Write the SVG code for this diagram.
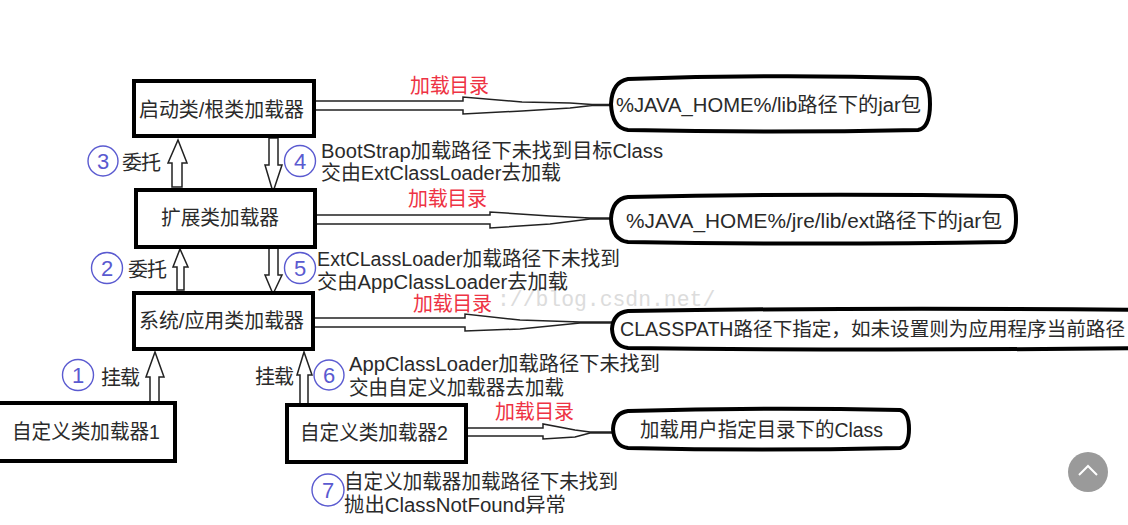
<svg xmlns="http://www.w3.org/2000/svg" width="1128" height="525" viewBox="0 0 1128 525">
<style>
text{font-family:"Liberation Sans","Noto Sans CJK SC",sans-serif;fill:#2a2a2a;font-size:20px}
.box{fill:#fff;stroke:#000;stroke-width:4}
.blob{fill:#fff;stroke:#000;stroke-width:4}
text.red{fill:#ee3344}
.arr{fill:#fff;stroke:#222;stroke-width:1.5;stroke-linejoin:miter}
.num{fill:#fff;stroke:#5a5ad0;stroke-width:1.4}
text.n{fill:#5a5ad0;font-size:22px;text-anchor:middle}
text.wm{font-family:"Liberation Mono",monospace;font-size:21.4px;fill:#dcdcdc}
</style>
<rect width="1128" height="525" fill="#fff"/>
<text class="wm" x="497" y="306">://blog.csdn.net/</text>
<g id="connectors">
<path class="arr" d="M314 101H463V97L522 102L570 103L592 104.500H611V105.500H592L570 108L522 111L463 114V110H314Z"/>
<path class="arr" d="M315 215H490V212L550 216L590 218H610V219H590L550 224L490 228V224H315Z"/>
<path class="arr" d="M313 318H465V314L520 320L580 322H612V323H580L520 329L465 331V327H313Z"/>
<path class="arr" d="M466 428H543V424L575 430L590 432H613V433H590L575 437L543 439V436H466Z"/>
<path class="arr" d="M172 187V163H168L178 140L187 163H182V187Z"/>
<path class="arr" d="M177 290V267H173L180 249L188 267H184V290Z"/>
<path class="arr" d="M150 403V377H146L155 352L164 377H159V403Z"/>
<path class="arr" d="M300 404V375H297L304 352L312 375H308V404Z"/>
<path class="arr" d="M269 138V165H265L273 192L282 165H278V138Z"/>
<path class="arr" d="M269 248V275H265L273 294L282 275H278V248Z"/>
</g>
<g id="node-bootstrap"><rect class="box" x="134" y="81" width="180" height="55"/><text x="139" y="117" textLength="165" lengthAdjust="spacingAndGlyphs">启动类/根类加载器</text></g>
<g id="node-ext"><rect class="box" x="136" y="190" width="179" height="57"/><text x="161" y="225" textLength="118" lengthAdjust="spacingAndGlyphs">扩展类加载器</text></g>
<g id="node-app"><rect class="box" x="134" y="293" width="179" height="56"/><text x="139" y="328" textLength="165" lengthAdjust="spacingAndGlyphs">系统/应用类加载器</text></g>
<g id="node-custom1"><rect class="box" x="-6" y="403" width="181" height="58"/><text x="12" y="439" textLength="148" lengthAdjust="spacingAndGlyphs">自定义类加载器1</text></g>
<g id="node-custom2"><rect class="box" x="287" y="405" width="179" height="57"/><text x="300" y="440" textLength="148" lengthAdjust="spacingAndGlyphs">自定义类加载器2</text></g>
<g id="target-lib"><path class="blob" d="M628 79Q770 74 918 78Q930 80 930 104Q930 128 918 130Q770 133 628 130Q612 128 611 104Q612 82 628 79Z"/><text x="616" y="112" textLength="305" lengthAdjust="spacingAndGlyphs">%JAVA_HOME%/lib路径下的jar包</text></g>
<g id="target-ext"><path class="blob" d="M628 197Q810 193 1005 196Q1016 198 1016 219Q1016 240 1005 242Q810 245 628 242Q612 240 611 219Q612 199 628 197Z"/><text x="626" y="228" textLength="376" lengthAdjust="spacingAndGlyphs">%JAVA_HOME%/jre/lib/ext路径下的jar包</text></g>
<g id="target-cp"><path class="blob" d="M628 311Q880 307 1150 310V348Q880 351 628 348Q613 346 612 329Q613 313 628 311Z"/><text x="620" y="336" style="font-size:19.500px" textLength="505" lengthAdjust="spacingAndGlyphs">CLASSPATH路径下指定，如未设置则为应用程序当前路径</text></g>
<g id="target-user"><path class="blob" d="M628 411Q760 407 900 410Q909 412 909 429Q909 446 900 448Q760 451 628 448Q614 446 613 429Q614 413 628 411Z"/><text x="640" y="437" textLength="243" lengthAdjust="spacingAndGlyphs">加载用户指定目录下的Class</text></g>
<g id="labels">
<text class="red" x="410" y="93" textLength="79">加载目录</text>
<text class="red" x="408" y="206" textLength="79">加载目录</text>
<text class="red" x="413" y="311" textLength="79">加载目录</text>
<text class="red" x="495" y="419" textLength="79">加载目录</text>
<circle class="num" cx="103" cy="161" r="15"/><text class="n" x="103" y="169">3</text><text x="122" y="170" textLength="39">委托</text>
<circle class="num" cx="107" cy="268" r="15.500"/><text class="n" x="107" y="276">2</text><text x="128" y="277" textLength="39">委托</text>
<circle class="num" cx="78" cy="375" r="15.500"/><text class="n" x="78" y="383">1</text><text x="101" y="385" textLength="39">挂载</text>
<text x="255" y="384" textLength="39">挂载</text>
<circle class="num" cx="300" cy="161" r="15.500"/><text class="n" x="300" y="169">4</text>
<circle class="num" cx="300" cy="268" r="15.500"/><text class="n" x="300" y="276">5</text>
<circle class="num" cx="329" cy="375" r="15"/><text class="n" x="329" y="383">6</text>
<circle class="num" cx="328" cy="490" r="16"/><text class="n" x="328" y="498">7</text>
<text x="321" y="158" textLength="342" lengthAdjust="spacingAndGlyphs">BootStrap加载路径下未找到目标Class</text>
<text x="321" y="180" textLength="240" lengthAdjust="spacingAndGlyphs">交由ExtClassLoader去加载</text>
<text x="317" y="266" textLength="303" lengthAdjust="spacingAndGlyphs">ExtCLassLoader加载路径下未找到</text>
<text x="317" y="289" textLength="251" lengthAdjust="spacingAndGlyphs">交由AppClassLoader去加载</text>
<text x="349" y="371" textLength="311" lengthAdjust="spacingAndGlyphs">AppClassLoader加载路径下未找到</text>
<text x="349" y="395" textLength="215" lengthAdjust="spacingAndGlyphs">交由自定义加载器去加载</text>
<text x="344" y="489" textLength="274" lengthAdjust="spacingAndGlyphs">自定义加载器加载路径下未找到</text>
<text x="344" y="512" textLength="222" lengthAdjust="spacingAndGlyphs">抛出ClassNotFound异常</text>
</g>
<g id="back-to-top"><circle cx="1088" cy="472" r="20" fill="#9a9a9a"/><path d="M1079 475L1088 466L1097 475" fill="none" stroke="#fff" stroke-width="2"/></g>
</svg>
